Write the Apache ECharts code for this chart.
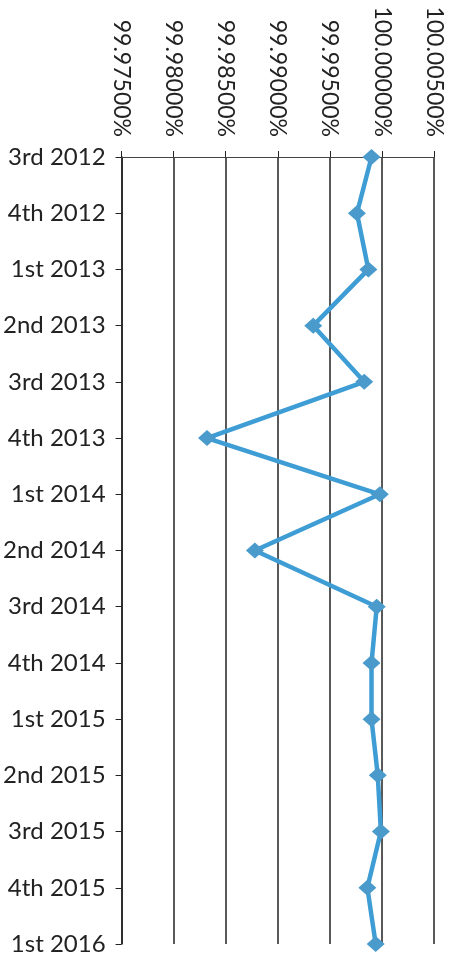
<!DOCTYPE html>
<html>
<head>
<meta charset="utf-8">
<script src="https://cdn.jsdelivr.net/npm/echarts@6/dist/echarts.min.js"></script>
<style>
  html, body { margin: 0; padding: 0; background: #fff; }
  #main { width: 456px; height: 957px; }
</style>
</head>
<body>
<div id="main"></div>
<script>
// quarters, top to bottom
const quarters = ['3rd 2012', '4th 2012', '1st 2013', '2nd 2013', '3rd 2013', '4th 2013',
  '1st 2014', '2nd 2014', '3rd 2014', '4th 2014', '1st 2015', '2nd 2015', '3rd 2015',
  '4th 2015', '1st 2016']
// availability in percent
const availability = [99.9990, 99.9976, 99.9987, 99.9934, 99.9983, 99.9832,
  99.9998, 99.9878, 99.9995, 99.9990, 99.9990, 99.9996, 99.9999, 99.9986, 99.9994]
// value axis range
const axisMin = 99.975
const axisMax = 100.005
const axisStep = 0.005

const chart = echarts.init(document.getElementById('main'))

chart.setOption({
  backgroundColor: '#ffffff',
  animation: false,
  textStyle: { fontFamily: 'Lato' },
  grid: { left: 120, right: 22, top: 157, bottom: 13, containLabel: false },
  xAxis: {
    type: 'value',
    position: 'top',
    min: axisMin,
    max: axisMax,
    interval: axisStep,
    axisLine: { show: true, lineStyle: { color: '#444', width: 1 } },
    axisTick: { show: true, length: 6, lineStyle: { color: '#222', width: 1 } },
    splitLine: { show: true, lineStyle: { color: '#222', width: 1.5 } },
    axisLabel: {
      rotate: 90,
      margin: 20,
      color: '#222',
      fontSize: 23,
      fontFamily: 'Lato',
      formatter: v => v.toFixed(5) + '%'
    }
  },
  yAxis: {
    type: 'category',
    data: quarters,
    inverse: true,
    boundaryGap: false,
    axisLine: { show: true, lineStyle: { color: '#222', width: 1.5 } },
    axisTick: { show: true, length: 6, lineStyle: { color: '#222', width: 1 } },
    splitLine: { show: false },
    axisLabel: {
      margin: 16,
      color: '#222',
      fontSize: 24,
      fontFamily: 'Lato'
    }
  },
  series: [{
    name: 'availability',
    type: 'line',
    data: availability,
    symbol: 'diamond',
    symbolSize: [18, 16],
    lineStyle: { color: '#3e9dd4', width: 4.5 },
    itemStyle: { color: '#4a9bcb' }
  }]
})
</script>
</body>
</html>
